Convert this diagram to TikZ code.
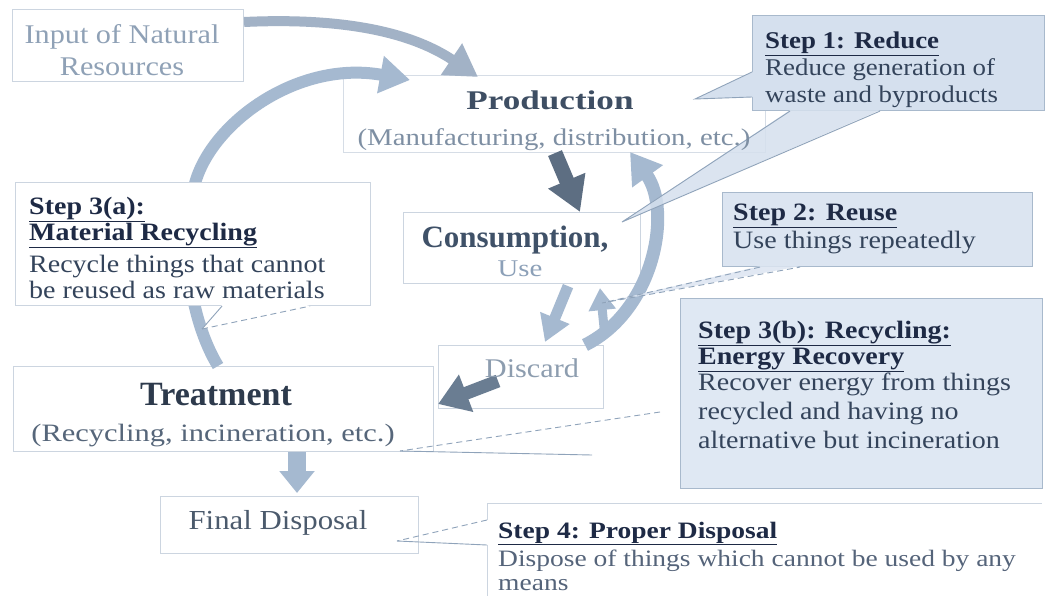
\documentclass[tikz,border=0pt]{standalone}
\usepackage{fontspec}
\setmainfont{Liberation Serif}[FakeStretch=1.12]
\newfontfamily\stA{Liberation Serif}[FakeStretch=1.2]
\newfontfamily\stB{Liberation Serif}[FakeStretch=1.3]
\newfontfamily\stC{Liberation Serif}[FakeStretch=1.22]
\newfontfamily\stD{Liberation Serif}[FakeStretch=1.17]
\newfontfamily\stN{Liberation Serif}
\usetikzlibrary{arrows.meta}

\definecolor{arrowlight}{HTML}{A5B9D0}
\definecolor{arrowgray}{HTML}{A2B2C6}
\definecolor{arrowdark}{HTML}{5D6E82}
\definecolor{arrowdarkb}{HTML}{6A7D92}
\definecolor{boxline}{HTML}{CCD5E0}
\definecolor{stepline}{HTML}{A8B9CC}
\definecolor{ptrline}{HTML}{8FA3BA}
\definecolor{stepfill}{HTML}{D5E0EE}
\definecolor{stepfilltwo}{HTML}{DCE5F1}
\definecolor{stepfillthree}{HTML}{DFE8F3}
\definecolor{navy}{HTML}{1E2A45}
\definecolor{bodytxt}{HTML}{34445B}
\definecolor{inputtxt}{HTML}{8FA1B6}
\definecolor{prodtitle}{HTML}{3E4E63}
\definecolor{prodsub}{HTML}{7E8FA3}
\definecolor{constitle}{HTML}{3F5168}
\definecolor{usetxt}{HTML}{8CA0B8}
\definecolor{discardtxt}{HTML}{8D9DAF}
\definecolor{treattitle}{HTML}{2D3A4C}
\definecolor{treatsub}{HTML}{56667A}
\definecolor{finaltxt}{HTML}{4B5A6C}
\definecolor{stepfourtxt}{HTML}{55647A}

\newcommand{\stephd}[1]{{\bfseries\color{navy}\underline{#1}}}
\newcommand{\nolsl}{\lineskiplimit=-100pt\relax}

\tikzset{
  pbox/.style={draw=boxline, line width=1.1pt, fill=white, inner sep=0pt, anchor=north west},
  sbox/.style={draw=stepline, line width=1.1pt, fill=stepfill, inner sep=0pt, anchor=north west},
  lbl/.style={inner sep=0pt, anchor=base},
  para/.style={inner sep=0pt, anchor=north west, align=left, text=bodytxt},
  ptr/.style={draw=ptrline, line width=0.9pt},
  ptrdash/.style={draw=ptrline, line width=0.9pt, dash pattern=on 6pt off 4pt},
  arrowL/.style={draw=arrowlight, line width=12pt, -{Triangle[width=36pt,length=30pt]}},
  arrowA/.style={draw=arrowgray, line width=10pt, -{Triangle[width=36pt,length=32pt]}},
  arrowDk/.style={draw=arrowdark, line width=15pt, -{Triangle[width=38pt,length=34pt]}},
  arrowDkb/.style={draw=arrowdarkb, line width=13pt, -{Triangle[width=38pt,length=30pt]}},
}

\begin{document}
\begin{tikzpicture}[x=1pt,y=-1pt]
\useasboundingbox (0,0) rectangle (1056,596);
\fill[white] (0,0) rectangle (1056,596);

% plain boxes
\node[pbox, minimum width=231, minimum height=72] (inp) at (12,9) {};
\node[pbox, draw=boxline!80, minimum width=422, minimum height=77] (prod) at (343,75) {};
\node[pbox, minimum width=237, minimum height=71] (cons) at (403,212) {};
\node[pbox, minimum width=165, minimum height=63] (disc) at (438,345) {};
\node[pbox, minimum width=420, minimum height=85] (treat) at (13,366) {};
\node[pbox, minimum width=258, minimum height=57] (final) at (160,496) {};

% arrows
\draw[arrowA] ([shift={(0,13)}]inp.north east) .. controls (330,18) and (405,28) .. ([shift={(135,2)}]prod.north west);
\draw[arrowL] ([shift={(205,0)}]treat.north west) .. controls (190,320) and (178,240) .. (196,180) .. controls (215,120) and (300,60) .. ([shift={(67,5)}]prod.north west);
\draw[arrowDk] ([shift={(212,0)}]prod.south west) -- ([shift={(177,0)}]cons.north west);
\draw[arrowL, line width=13pt] ([shift={(147,0)}]disc.north west) .. controls (655,310) and (672,210) .. ([shift={(287,77)}]prod.north west);
\draw[arrowL, line width=11pt, -{Triangle[width=30pt,length=26pt]}] ([shift={(165,2)}]cons.south west) -- ([shift={(107,-3)}]disc.north west);
\draw[arrowL, line width=9pt, -{Triangle[width=26pt,length=22pt]}] ([shift={(167,-8)}]disc.north west) -- ([shift={(197,4)}]cons.south west);
\draw[arrowDkb] ([shift={(60,36)}]disc.north west) -- ([shift={(4,38)}]treat.north east);
\draw[arrowL, line width=18pt, -{Triangle[width=34pt,length=22pt]}] ([shift={(284,0)}]treat.south west) -- ([shift={(137,-3)}]final.north west);

% step 3(a) box (covers the recycling arc)
\node[pbox, minimum width=355, minimum height=123] (s3a) at (15,182) {};

% step boxes
\node[sbox, minimum width=292, minimum height=95] (s1) at (752,15) {};
\node[sbox, fill=stepfilltwo, minimum width=310, minimum height=74] (s2) at (722,192) {};
\node[sbox, fill=stepfillthree, minimum width=362, minimum height=190] (s3b) at (680,298) {};
\coordinate (s4) at (487,503);

% callout tips
\coordinate (t1a) at (695,99);
\coordinate (t1b) at (622,222);
\coordinate (t2) at (602,303);
\coordinate (t3a) at (202,329);
\coordinate (t3b) at (400,451);
\coordinate (t4) at (397,541);

% callout pointers
\fill[stepfill] ([shift={(1,57)}]s1.north west) -- (t1a) -- ([shift={(1,82)}]s1.north west) -- cycle;
\draw[ptr] ([shift={(0,57)}]s1.north west) -- (t1a) -- ([shift={(0,82)}]s1.north west);
\fill[stepfill, opacity=0.85] ([shift={(38,-1)}]s1.south west) -- (t1b) -- ([shift={(128,-1)}]s1.south west) -- cycle;
\draw[ptr] ([shift={(38,0)}]s1.south west) -- (t1b) -- ([shift={(128,0)}]s1.south west);
\fill[stepfilltwo, opacity=0.85] ([shift={(38,-1)}]s2.south west) -- (t2) -- ([shift={(78,-1)}]s2.south west) -- cycle;
\draw[ptrdash] ([shift={(38,0)}]s2.south west) -- (t2) -- ([shift={(78,0)}]s2.south west);
\fill[white] ([shift={(207,-1)}]s3a.south west) -- (t3a) -- ([shift={(295,-1)}]s3a.south west) -- cycle;
\draw[ptr] ([shift={(207,0)}]s3a.south west) -- (t3a);
\draw[ptrdash] (t3a) -- ([shift={(295,0)}]s3a.south west);
\draw[ptrdash] ([shift={(-20,114)}]s3b.north west) -- (t3b);
\draw[ptr] (t3b) -- ([shift={(-88,157)}]s3b.north west);
\draw[ptr, draw=boxline] (s4) -- ([shift={(555,0)}]s4);
\draw[ptr, draw=boxline] (s4) -- ([shift={(0,17)}]s4);
\draw[ptr, draw=boxline] ([shift={(0,42)}]s4) -- ([shift={(0,100)}]s4);
\draw[ptrdash] ([shift={(0,17)}]s4) -- (t4);
\draw[ptr] (t4) -- ([shift={(0,42)}]s4);

% texts of the cycle
\node[inner sep=0pt, anchor=north, align=center, text=inputtxt, font={\fontsize{27}{32}\selectfont}] (inpt) at (122,23) {\rule{0pt}{20pt}Input of Natural\\Resources};
\node[lbl, text=prodtitle, font={\stB\bfseries\fontsize{27}{30}\selectfont}] (prodt) at (550,110) {Production};
\node[lbl, text=prodsub, font={\stA\fontsize{24}{28}\selectfont}] (prods) at (554,146) {(Manufacturing, distribution, etc.)};
\node[lbl, text=constitle, font={\stN\bfseries\fontsize{31}{34}\selectfont}] (const) at (515,247) {Consumption,};
\node[lbl, text=usetxt, font={\stA\fontsize{24}{28}\selectfont}] (conss) at (520,276) {Use};
\node[lbl, text=discardtxt, font={\fontsize{27}{30}\selectfont}] (disct) at (532,377) {Discard};
\node[lbl, text=treattitle, font={\stN\bfseries\fontsize{34}{38}\selectfont}] (treatt) at (216,405) {Treatment};
\node[lbl, text=treatsub, font={\stC\fontsize{25}{28}\selectfont}] (treats) at (213,441) {(Recycling, incineration, etc.)};
\node[lbl, text=finaltxt, font={\fontsize{27.5}{30}\selectfont}] (finalt) at (278,529) {Final Disposal};

% texts of the steps
\node[para, font={\fontsize{24}{27}\selectfont\nolsl}] (s1t) at (765,28) {\rule{0pt}{20pt}\stephd{Step 1: Reduce}\\Reduce generation of\\waste and byproducts};
\node[para, font={\fontsize{25}{28}\selectfont\nolsl}] (s2t) at (733,200) {\rule{0pt}{20pt}\stephd{Step 2: Reuse}\\Use things repeatedly};
\node[para, font={\fontsize{25}{26.5}\selectfont\nolsl}] (s3at) at (29,194) {\rule{0pt}{20pt}\stephd{Step 3(a):}\\\stephd{Material Recycling}\\[5pt]Recycle things that cannot\\be reused as raw materials};
\node[para, font={\fontsize{25}{29}\selectfont\nolsl}] (s3bt) at (698,318) {\rule{0pt}{20pt}\stephd{Step 3(b): Recycling:}\\[-3pt]\stephd{Energy Recovery}\\[-3pt]Recover energy from things\\recycled and having no\\alternative but incineration};
\node[para, text=stepfourtxt, font={\stD\fontsize{23.5}{24}\selectfont\nolsl}] (s4t) at (498,518) {\rule{0pt}{20pt}\textmd{\stephd{Step 4: Proper Disposal}}\\[4pt]Dispose of things which cannot be used by any\\means};
\end{tikzpicture}
\end{document}
